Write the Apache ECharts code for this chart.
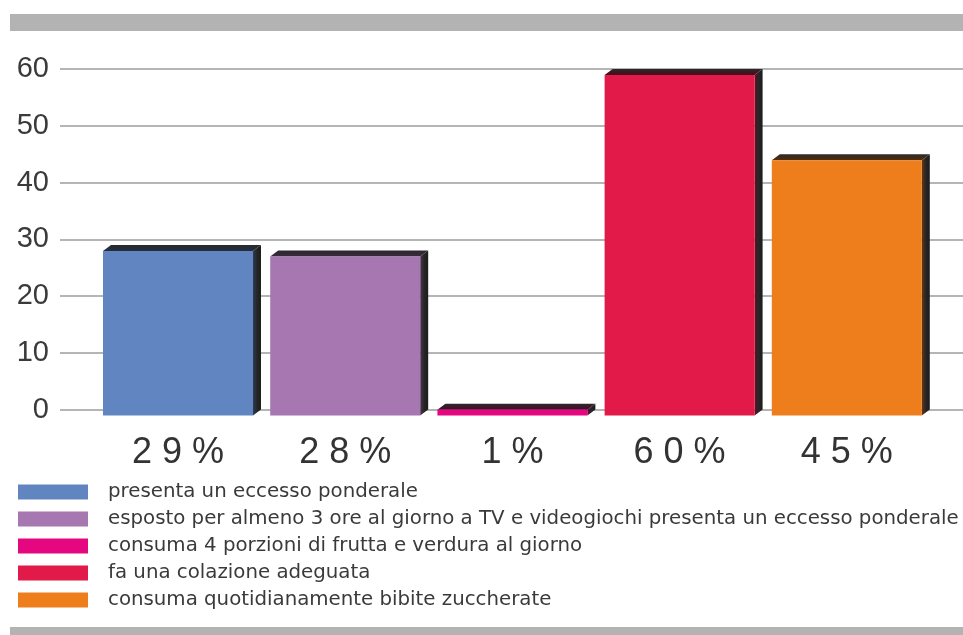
<!DOCTYPE html>
<html>
<head>
<meta charset="utf-8">
<style>
  html, body { margin: 0; padding: 0; background: #ffffff; }
  #chart { width: 963px; height: 635px; }
</style>
<script src="https://cdn.jsdelivr.net/npm/echarts@6/dist/echarts.min.js"></script>
</head>
<body>
<div id="chart"></div>
<script>
// Categories shown under the bars (percent labels)
const categories = ['29%', '28%', '1%', '60%', '45%'];
// Bar values, one per indicator
const values = [29, 28, 1, 60, 45];
// Legend texts, one per indicator
const seriesNames = [
  'presenta un eccesso ponderale',
  'esposto per almeno 3 ore al giorno a TV e videogiochi presenta un eccesso ponderale',
  'consuma 4 porzioni di frutta e verdura al giorno',
  'fa una colazione adeguata',
  'consuma quotidianamente bibite zuccherate'
];
// Y axis ticks
const yTicks = [0, 10, 20, 30, 40, 50, 60];

const colors = ['#6185c0', '#a677b0', '#e5077f', '#e21a49', '#ee7d1c'];

const DX = 8, DY = 6; // depth offset of the 3D columns

function shade(hex, k) {
  const n = parseInt(hex.slice(1), 16);
  const r = Math.round(((n >> 16) & 255) * k);
  const g = Math.round(((n >> 8) & 255) * k);
  const b = Math.round((n & 255) * k);
  return `rgb(${r},${g},${b})`;
}

function makeRender(color) {
  return function (params, api) {
    const x = api.value(0);
    const v = api.value(1);
    const top = api.coord([x, v]);
    const base = api.coord([x, 0]);
    const bw = api.size([1, 0])[0] * 0.897;
    const left = top[0] - bw / 2;
    const right = top[0] + bw / 2;
    const ft = top[1] + DY;
    const fb = base[1] + DY;
    return {
      type: 'group',
      children: [
        {
          type: 'polygon',
          shape: { points: [[right, ft], [right + DX, ft - DY], [right + DX, fb - DY], [right, fb]] },
          style: {
            fill: new echarts.graphic.LinearGradient(0, 0, 1, 0, [
              { offset: 0, color: shade(color, 0.45) },
              { offset: 0.5, color: '#262626' },
              { offset: 1, color: '#1c1c1c' }
            ])
          }
        },
        {
          type: 'polygon',
          shape: { points: [[left, ft], [left + DX, ft - DY], [right + DX, ft - DY], [right, ft]] },
          style: {
            fill: new echarts.graphic.LinearGradient(0, 1, 0, 0, [
              { offset: 0, color: shade(color, 0.35) },
              { offset: 1, color: '#2a2a2a' }
            ])
          }
        },
        {
          type: 'rect',
          shape: { x: left, y: ft, width: bw, height: fb - ft },
          style: { fill: color }
        }
      ]
    };
  };
}

const series = seriesNames.map((name, i) => ({
  name: name,
  type: 'custom',
  xAxisIndex: 1,
  yAxisIndex: 1,
  clip: false,
  itemStyle: { color: colors[i] },
  renderItem: makeRender(colors[i]),
  encode: { x: 0, y: 1 },
  data: [[i, values[i]]]
}));

const chart = echarts.init(document.getElementById('chart'), null, { renderer: 'canvas' });

chart.setOption({
  backgroundColor: '#ffffff',
  animation: false,
  graphic: [
    { type: 'rect', left: 10, top: 14, shape: { width: 953, height: 17 }, style: { fill: '#b3b3b3' } },
    { type: 'rect', left: 10, top: 627, shape: { width: 953, height: 8 }, style: { fill: '#b3b3b3' } }
  ],
  grid: [
    { left: 60, right: 0, top: 69, bottom: 225.5 },
    { left: 94.4, right: 32.6, top: 69, bottom: 225.5 }
  ],
  xAxis: [
    { type: 'category', gridIndex: 0, data: categories, show: false },
    {
      type: 'category',
      gridIndex: 1,
      data: categories,
      axisLine: { show: false },
      axisTick: { show: false },
      axisLabel: {
        margin: 26,
        formatter: (v) => v.split('').map(c => `{c|${c}}`).join(''),
        rich: {
          c: {
            fontFamily: '"Liberation Sans", Arial, sans-serif',
            fontSize: 36,
            color: '#333333',
            padding: [0, 5]
          }
        }
      }
    }
  ],
  yAxis: [
    {
      type: 'value',
      gridIndex: 0,
      min: 0,
      max: 60,
      interval: 10,
      axisLine: { show: false },
      axisTick: { show: false },
      axisLabel: {
        margin: 11,
        fontFamily: '"Liberation Sans", Arial, sans-serif',
        fontSize: 29,
        color: '#3a3a3a',
        formatter: (v) => (yTicks.indexOf(v) >= 0 ? String(v) : '')
      },
      splitLine: { lineStyle: { color: '#9c9c9c', width: 1.5 } }
    },
    {
      type: 'value',
      gridIndex: 1,
      min: 0,
      max: 60,
      interval: 10,
      show: false,
      splitLine: { show: false }
    }
  ],
  legend: {
    orient: 'vertical',
    left: 18,
    top: 482,
    padding: 0,
    itemWidth: 70,
    itemHeight: 15,
    itemGap: 7,
    icon: 'rect',
    selectedMode: false,
    data: seriesNames,
    textStyle: {
      fontFamily: '"DejaVu Sans", sans-serif',
      fontSize: 19.8,
      lineHeight: 18,
      color: '#3a3a3a',
      padding: [0, 0, 0, 15]
    }
  },
  series: series
});
</script>
</body>
</html>
